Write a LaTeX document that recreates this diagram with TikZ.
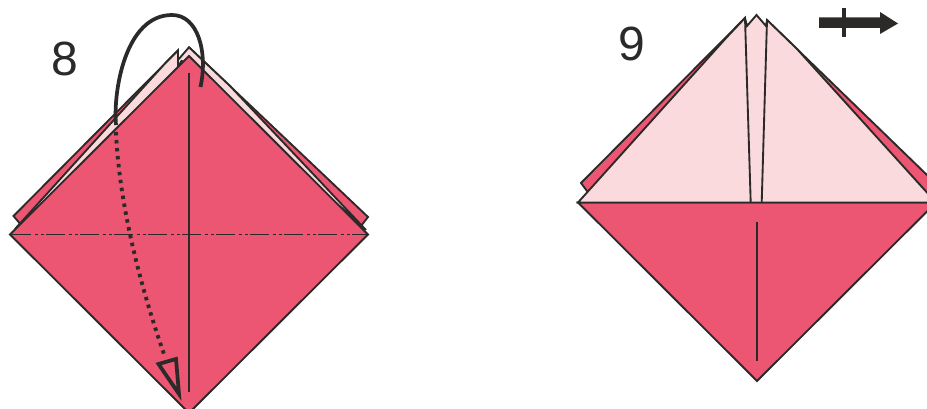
\documentclass[tikz,border=0pt]{standalone}
\usepackage{fontspec}
\setmainfont{Liberation Sans}
\definecolor{inkc}{HTML}{2B2A29}
\definecolor{redc}{HTML}{EC5672}
\definecolor{pinkc}{HTML}{FADADD}
\tikzset{
  fold/.style={draw=inkc,line width=1.4pt,line join=miter,miter limit=3},
  redface/.style={fold,fill=redc},
  pinkface/.style={fold,fill=pinkc},
  crease/.style={draw=inkc,line width=1.4pt},
  valley/.style={draw=inkc,line width=1.4pt,dash pattern=on 14.2pt off 3pt on 2.2pt off 2.6pt on 2.2pt off 1.3pt},
  heavy/.style={draw=inkc,line width=2.8pt},
  dotline/.style={draw=inkc,line width=2.9pt,dash pattern=on 2.6pt off 3.4pt},
  stepnum/.style={text=inkc,font=\fontsize{36}{36}\selectfont,inner sep=0pt}
}
\begin{document}
\begin{tikzpicture}[x=0.75pt,y=-0.75pt]
\clip (0,0) rectangle (927,409);
\fill[white] (0,0) rectangle (927,409);
% --- step 8 ---
\path[redface] (13.5,216) -- (178,50.5) -- (178,70) -- (22,226) -- cycle;
\path[redface] (189,47.3) -- (368,217) -- (361,226) -- (230,90) -- cycle;
\path[pinkface] (165,63.5) -- (178,50.5) -- (178,67) -- (189,47.3) -- (230,86) -- (366,230) -- (189,70) -- (15,229) -- cycle;
\path[fill=pinkc] (178,60) -- (189,47.3) -- (189,60) -- cycle;
\draw[fold] (178,60) -- (189,47.3);
\path[redface] (10,234.5) -- (189,56) -- (368,234.5) -- (189,413) -- cycle;
\draw[crease] (189,73) -- (189,392);
\draw[valley] (12,234.5) -- (368,234.5);
\draw[heavy,line cap=butt] (116,125) .. controls (113,92) and (125,15) .. (172,15)
  .. controls (198,15) and (208,52) .. (200.5,87);
\draw[dotline] (116,132) .. controls (119,200) and (138,280) .. (165,357);
\draw[heavy,miter limit=10] (158.5,364) -- (176,359) -- (179,394) -- cycle;
\node[stepnum] (eight) at (65,59) {8};
% --- step 9 ---
\path[redface] (581,183) -- (745,18) -- (745,60) -- (590,195) -- cycle;
\path[redface] (767,20) -- (960,207) -- (945,215) -- (780,60) -- cycle;
\path[redface] (578,202.5) -- (936,202.5) -- (757,381) -- cycle;
\path[pinkface] (578,202.5) -- (727,37) -- (745,18) -- (747,26) -- (756.5,15) -- (766,26) -- (767,20) -- (797,49) -- (936,202.5) -- cycle;
\draw[crease] (745,18) -- (750.7,202.5);
\draw[crease] (767,20) -- (761.7,202.5);
\draw[crease] (578,202.5) -- (936,202.5);
\draw[crease] (757,222) -- (757,361);
\node[stepnum] (nine) at (632,44) {9};
\fill[inkc] (819,17.5) -- (880,17.5) -- (880,12) -- (898,23.5) -- (880,34) -- (880,28) -- (819,28) -- cycle;
\fill[inkc] (842,8) rectangle (846,37);
\end{tikzpicture}
\end{document}
